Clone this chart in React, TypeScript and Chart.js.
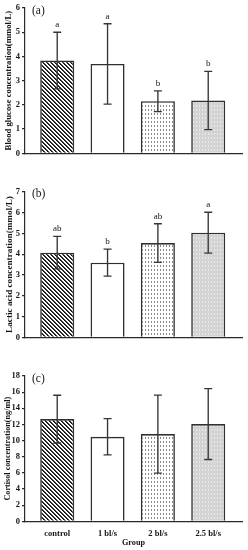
import React, { useEffect, useRef } from "react";
import { Chart, registerables } from "chart.js";

Chart.register(...registerables);

// ---------- data ----------
const groups = ["control", "1 bl/s", "2 bl/s", "2.5 bl/s"];

const glucoseMean = [3.83, 3.69, 2.15, 2.18];
const glucoseSD = [1.17, 1.66, 0.43, 1.2];
const glucoseLetters = ["a", "a", "b", "b"];

const lacticMean = [4.07, 3.59, 4.53, 5.03];
const lacticSD = [0.78, 0.65, 0.93, 0.98];
const lacticLetters = ["ab", "b", "ab", "a"];

const cortisolMean = [12.66, 10.47, 10.8, 12.04];
const cortisolSD = [2.96, 2.25, 4.84, 4.39];
const cortisolLetters = ["", "", "", ""];

const yTitles = [
  "Blood glucose concentration(mmol/L)",
  "Lactic acid concentration(mmol/L)",
  "Cortisol concentration(ng/ml)",
];
const panelTags = ["(a)", "(b)", "(c)"];
const yMax = [6, 7, 18];
const yStep = [1, 1, 2];
const xTitle = "Group";

// ---------- styling ----------
const FONT = '"Liberation Serif", "Times New Roman", serif';
const INK = "#151515";
const AXIS = "#2a2a2a";

function makePattern(kind: string): CanvasPattern | string {
  const c = document.createElement("canvas");
  const ctx = c.getContext("2d");
  if (!ctx) return "#fff";
  if (kind === "hatch") {
    c.width = 4;
    c.height = 4;
    ctx.fillStyle = "#ffffff";
    ctx.fillRect(0, 0, 4, 4);
    for (let i = 0; i < 4; i++) {
      ctx.fillStyle = "#141414";
      ctx.fillRect(i, i, 1, 1);
      ctx.fillStyle = "#3a3a3a";
      ctx.fillRect((i + 1) % 4, i, 1, 1);
    }
  } else if (kind === "dots") {
    c.width = 3;
    c.height = 4;
    ctx.fillStyle = "#ffffff";
    ctx.fillRect(0, 0, 3, 4);
    ctx.fillStyle = "#8a8a8a";
    ctx.fillRect(1, 1, 1, 2);
  } else if (kind === "gray") {
    c.width = 3;
    c.height = 4;
    ctx.fillStyle = "#d3d3d3";
    ctx.fillRect(0, 0, 3, 4);
    ctx.fillStyle = "#e9e9e9";
    ctx.fillRect(1, 1, 1, 2);
  } else {
    return "#ffffff";
  }
  const p = ctx.createPattern(c, "repeat");
  return p || "#fff";
}

type PanelSpec = {
  idx: number;
  mean: number[];
  sd: number[];
  letters: string[];
  top: number;
  height: number;
  padTop: number;
  xHeight: number;
  titleSize: number;
  titlePad: number;
  showX: boolean;
};

function buildConfig(spec: PanelSpec): any {
  const fills = [
    makePattern("hatch"),
    makePattern("white"),
    makePattern("dots"),
    makePattern("gray"),
  ];

  const overlay = {
    id: "errorsAndLetters",
    afterDatasetsDraw(chart: any) {
      const { ctx, chartArea } = chart;
      const y = chart.scales.y;
      const meta = chart.getDatasetMeta(0);
      ctx.save();
      ctx.strokeStyle = "#363636";
      ctx.lineWidth = 1.35;
      spec.mean.forEach((m, i) => {
        const el = meta.data[i];
        if (!el) return;
        const x = el.x;
        const yTop = y.getPixelForValue(m + spec.sd[i]);
        const yBot = y.getPixelForValue(m - spec.sd[i]);
        ctx.beginPath();
        ctx.moveTo(x, yBot);
        ctx.lineTo(x, yTop);
        ctx.moveTo(x - 4, yTop);
        ctx.lineTo(x + 4, yTop);
        ctx.moveTo(x - 4, yBot);
        ctx.lineTo(x + 4, yBot);
        ctx.stroke();
        const letter = spec.letters[i];
        if (letter) {
          ctx.fillStyle = INK;
          ctx.font = `9px ${FONT}`;
          ctx.textAlign = "center";
          ctx.textBaseline = "alphabetic";
          ctx.fillText(letter, x, yTop - 5);
        }
      });
      ctx.fillStyle = INK;
      ctx.font = `11.5px ${FONT}`;
      ctx.textAlign = "left";
      ctx.textBaseline = "middle";
      ctx.fillText(panelTags[spec.idx], chartArea.left + 7, chartArea.top + 2.7);
      ctx.restore();
    },
  };

  return {
    type: "bar",
    data: {
      datasets: [
        {
          data: spec.mean.map((v, i) => ({ x: i, y: v })),
          backgroundColor: fills,
          borderColor: "#2f2f2f",
          borderWidth: 1.6,
          barPercentage: 0.676,
          categoryPercentage: 1,
        },
      ],
    },
    options: {
      responsive: false,
      animation: false,
      events: [],
      layout: { padding: { top: spec.padTop, left: 0, right: 6, bottom: 0 } },
      plugins: {
        legend: { display: false },
        tooltip: { enabled: false },
        title: { display: false },
      },
      scales: {
        x: {
          type: "linear",
          offset: false,
          min: -0.64,
          max: 3.671,
          afterBuildTicks: (s: any) => {
            s.ticks = groups.map((_, i) => ({ value: i }));
          },
          afterFit: (s: any) => {
            s.height = spec.xHeight;
          },
          grid: { display: false, drawTicks: false, tickLength: 0 },
          border: { display: true, color: AXIS, width: 1.2 },
          ticks: {
            display: spec.showX,
            autoSkip: false,
            maxRotation: 0,
            padding: 7,
            color: INK,
            font: { family: FONT, size: 8.5, weight: "bold" },
            callback: (v: any) => groups[Math.round(v)] ?? "",
          },
          title: {
            display: spec.showX,
            text: xTitle,
            color: INK,
            font: { family: FONT, size: 8.2, weight: "bold" },
            padding: { top: 0, bottom: 2 },
          },
        },
        y: {
          min: 0,
          max: yMax[spec.idx],
          afterFit: (s: any) => {
            s.width = 25;
          },
          grid: {
            drawOnChartArea: false,
            drawTicks: true,
            tickLength: 3,
            tickColor: AXIS,
            lineWidth: 1.2,
          },
          border: { display: true, color: AXIS, width: 1.2 },
          ticks: {
            stepSize: yStep[spec.idx],
            padding: 2,
            color: INK,
            font: { family: FONT, size: 8.5, weight: "bold" },
          },
          title: {
            display: true,
            text: yTitles[spec.idx],
            color: INK,
            font: { family: FONT, size: spec.titleSize, weight: "bold" },
            padding: { top: spec.titlePad, bottom: 0 },
          },
        },
      },
    },
    plugins: [overlay],
  };
}

const panels: PanelSpec[] = [
  {
    idx: 0,
    mean: glucoseMean,
    sd: glucoseSD,
    letters: glucoseLetters,
    top: 0,
    height: 180,
    padTop: 8,
    xHeight: 26.7,
    titleSize: 8.7,
    titlePad: 3.8,
    showX: false,
  },
  {
    idx: 1,
    mean: lacticMean,
    sd: lacticSD,
    letters: lacticLetters,
    top: 180,
    height: 180,
    padTop: 11.7,
    xHeight: 22.7,
    titleSize: 9.2,
    titlePad: 4,
    showX: false,
  },
  {
    idx: 2,
    mean: cortisolMean,
    sd: cortisolSD,
    letters: cortisolLetters,
    top: 360,
    height: 190,
    padTop: 16,
    xHeight: 28.7,
    titleSize: 8.2,
    titlePad: 3.1,
    showX: true,
  },
];

function Panel({ spec }: { spec: PanelSpec }) {
  const ref = useRef<HTMLCanvasElement | null>(null);
  useEffect(() => {
    if (!ref.current) return;
    const chart = new Chart(ref.current, buildConfig(spec));
    return () => chart.destroy();
  }, [spec]);
  return (
    <canvas
      ref={ref}
      width={248}
      height={spec.height}
      style={{ position: "absolute", left: 0, top: spec.top, width: 248, height: spec.height, display: "block" }}
    />
  );
}

export default function App() {
  return (
    <div
      style={{
        position: "fixed",
        left: 0,
        top: 0,
        width: 248,
        height: 550,
        background: "#ffffff",
        overflow: "hidden",
      }}
    >
      {panels.map((p) => (
        <Panel key={p.idx} spec={p} />
      ))}
    </div>
  );
}
